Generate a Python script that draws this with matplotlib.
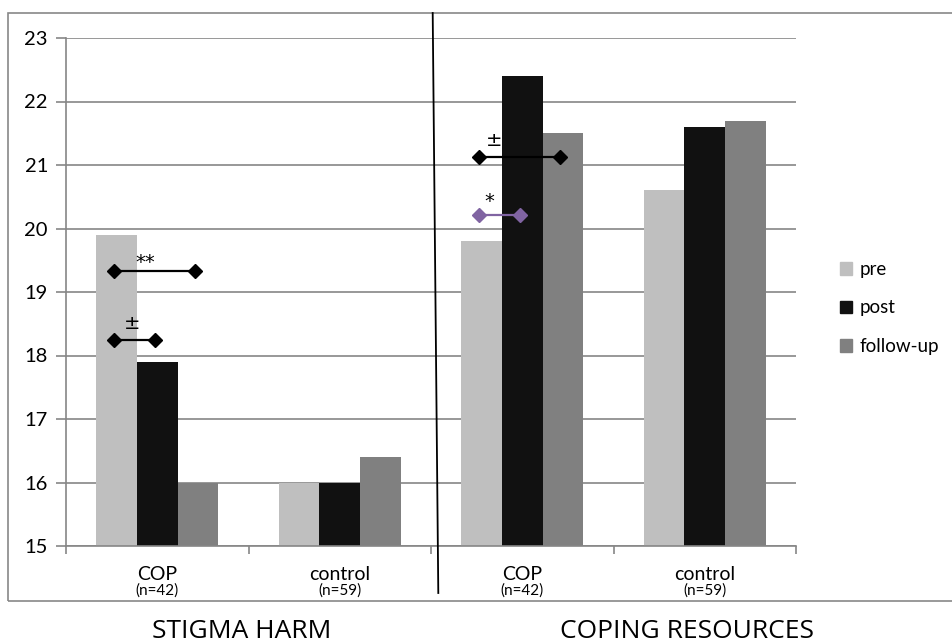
import numpy as np
import matplotlib.pyplot as plt
from matplotlib.lines import Line2D
from matplotlib.patches import Rectangle

plt.rcParams['font.family'] = ['Lato', 'DejaVu Sans']

# Group means, two outcomes x two groups
groups = ["COP", "control", "COP", "control"]
group_n = ["(n=42)", "(n=59)", "(n=42)", "(n=59)"]
series = ["pre", "post", "follow-up"]
pre = [19.9, 16.0, 19.8, 20.6]
post = [17.9, 16.0, 22.4, 21.6]
follow_up = [16.0, 16.4, 21.5, 21.7]
outcomes = ["STIGMA HARM", "COPING RESOURCES"]

# Significance brackets: (group, from series, to series, y level,
#                         label, label x, label y, colour)
sig_marks = [
    (0, 0, 2, 19.33, "**", -0.064, 19.46, "black"),
    (0, 0, 1, 18.25, "±", -0.135, 18.50, "black"),
    (2, 0, 2, 21.12, "±", 1.847, 21.38, "black"),
    (2, 0, 1, 20.21, "*", 1.821, 20.42, "#8064A2"),
]

colors = ["#BFBFBF", "#111111", "#808080"]
bar_w = 1 / 4.5  # Excel gap width 150 %

fig = plt.figure(figsize=(9.52, 6.44), dpi=100)
ax = fig.add_axes([66 / 952, 1 - 546 / 644, 730 / 952, 508 / 644])

x = np.arange(len(groups))
offsets = [-bar_w, 0, bar_w]
for vals, off, c, name in zip([pre, post, follow_up], offsets, colors, series):
    ax.bar(x + off, np.array(vals) - 15, bar_w, bottom=15, color=c,
           label=name, zorder=2)

for g, s0, s1, y, lab, tx, ty, c in sig_marks:
    xs = [g + offsets[s0] - 0.015, g + offsets[s1] - 0.015]
    ax.plot(xs, [y, y], color=c, lw=1.6, marker="D", ms=7, zorder=4)
    ax.text(tx, ty, lab, ha="center", va="center", fontsize=14,
            color="black", zorder=4, family=["DejaVu Sans"])

ax.set_xlim(-0.5, 3.5)
ax.set_ylim(15, 23)
ax.set_yticks(range(15, 24))
ax.yaxis.grid(True, color="#868686", lw=1.2, zorder=0)
ax.set_axisbelow(True)
ax.set_xticks(np.arange(-0.5, 4, 1))
ax.set_xticklabels([])
ax.tick_params(axis="x", length=6, color="#868686", width=1.2)
ax.tick_params(axis="y", length=7, color="#868686", width=1.2,
               labelsize=14.5, pad=6)
for side in ["top", "right"]:
    ax.spines[side].set_visible(False)
for side in ["left", "bottom"]:
    ax.spines[side].set_color("#868686")
    ax.spines[side].set_linewidth(1.2)

for i, (g, n) in enumerate(zip(groups, group_n)):
    ax.text(i, -0.057, g, transform=ax.get_xaxis_transform(),
            ha="center", va="center", fontsize=14)
    ax.text(i, -0.087, n, transform=ax.get_xaxis_transform(),
            ha="center", va="center", fontsize=11)

handles = [Rectangle((0, 0), 1, 1, color=c) for c in colors]
fig.legend(handles, series, loc="center left",
           bbox_to_anchor=(823 / 952, 1 - 308 / 644), frameon=False,
           fontsize=13.5, handlelength=0.65, handleheight=0.65,
           handletextpad=0.4, labelspacing=1.15)

# outer chart frame
fig.add_artist(Rectangle((8 / 952, 1 - 601 / 644), 960 / 952, 588 / 644,
                         transform=fig.transFigure, fill=False,
                         edgecolor="#888888", lw=1.2))
# divider between the two outcomes
fig.add_artist(Line2D([432.7 / 952, 438.3 / 952], [1 - 13 / 644, 1 - 593 / 644],
                      transform=fig.transFigure, color="black", lw=1.3))

for xc, title in zip([242, 687], outcomes):
    fig.text(xc / 952, 1 - 638 / 644, title, ha="center", va="baseline",
             fontsize=19, family=["Open Sans", "DejaVu Sans"])

fig.savefig("out.png", dpi=100)
